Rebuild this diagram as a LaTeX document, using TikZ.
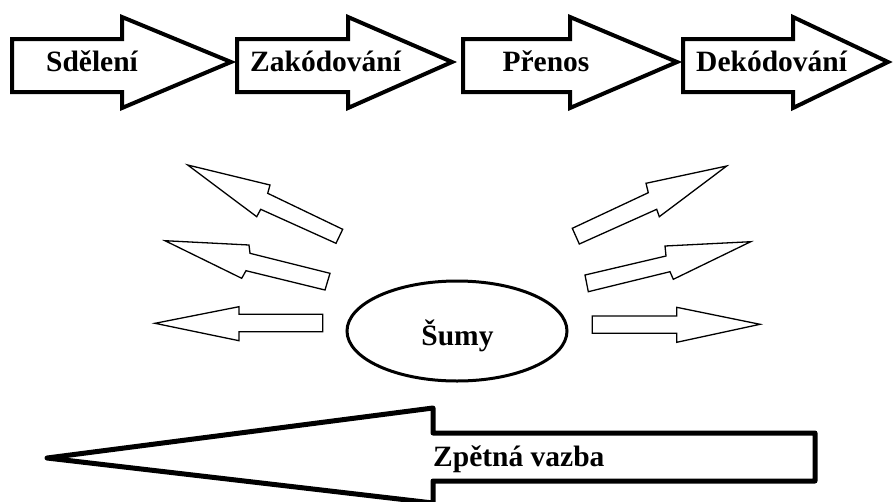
\documentclass[tikz,border=0pt]{standalone}
\usepackage{fontspec}
\setmainfont{Liberation Serif}
\newcommand\toparr[3]{\draw[bigarrow] (#1,39) -- (#2,39) -- (#2,17) -- (#3,62) -- (#2,108) -- (#2,92) -- (#1,92) -- cycle;}
\begin{document}
\begin{tikzpicture}[x=1pt,y=-1pt,
  bigarrow/.style={draw=black, line width=4pt, line join=miter, fill=white},
  noise/.style={draw=black, line width=1.3pt, line join=miter},
  lbl/.style={font=\fontsize{29.5}{31}\selectfont\bfseries, inner sep=0pt, anchor=base}]
\clip (0,0) rectangle (893,501);
\fill[white] (0,0) rectangle (893,501);
% top chain
\toparr{12}{122}{231}
\toparr{237}{348}{452}
\toparr{463}{570}{677}
\toparr{683}{793}{888}
\node[lbl] (sdeleni) at (92,71) {Sdělení};
\node[lbl, anchor=base west] (zakodovani) at (250,71) {Zakódování};
\node[lbl] (prenos) at (546,71) {Přenos};
\node[lbl, anchor=base west] (dekodovani) at (696,71) {Dekódování};
% noise ellipse
\draw[line width=3pt] (457,331) ellipse [x radius=110, y radius=50];
\node[lbl] (sumy) at (457.5,345) {Šumy};
% left noise arrows
\draw[noise] (187.7,165) -- (270,185) -- (267.7,193.3) -- (342.7,229.3) -- (336,243.3) -- (260.7,209.3) -- (256.7,216.7) -- cycle;
\draw[noise] (165,240.7) -- (249,245) -- (250,253.3) -- (330,273.3) -- (325,290) -- (246,270.7) -- (241.7,278.3) -- cycle;
\draw[noise] (155,323.3) -- (239,306.7) -- (239,314.3) -- (322.7,314.3) -- (322.7,331.7) -- (239,331.7) -- (239,340.7) -- cycle;
% right noise arrows
\draw[noise] (726.7,166) -- (646,183.3) -- (648.3,192.7) -- (572.3,228.3) -- (579.3,244) -- (656.7,209.3) -- (659.3,216.7) -- cycle;
\draw[noise] (750.7,241.7) -- (665,246) -- (666,256) -- (585,275) -- (588.3,291.7) -- (670,271.7) -- (673.3,279.3) -- cycle;
\draw[noise] (760,324.3) -- (676.7,307.3) -- (676.7,316) -- (592.3,316) -- (592.3,333.3) -- (676.7,333.3) -- (676.7,342.3) -- cycle;
% feedback arrow
\draw[line width=5pt, line join=round] (47,458) -- (433,408) -- (433,433) -- (815,433) -- (815,481) -- (433,481) -- (433,503) -- cycle;
\node[lbl, anchor=base west] (zpetna) at (433,466) {Zpětná vazba};
\end{tikzpicture}
\end{document}
